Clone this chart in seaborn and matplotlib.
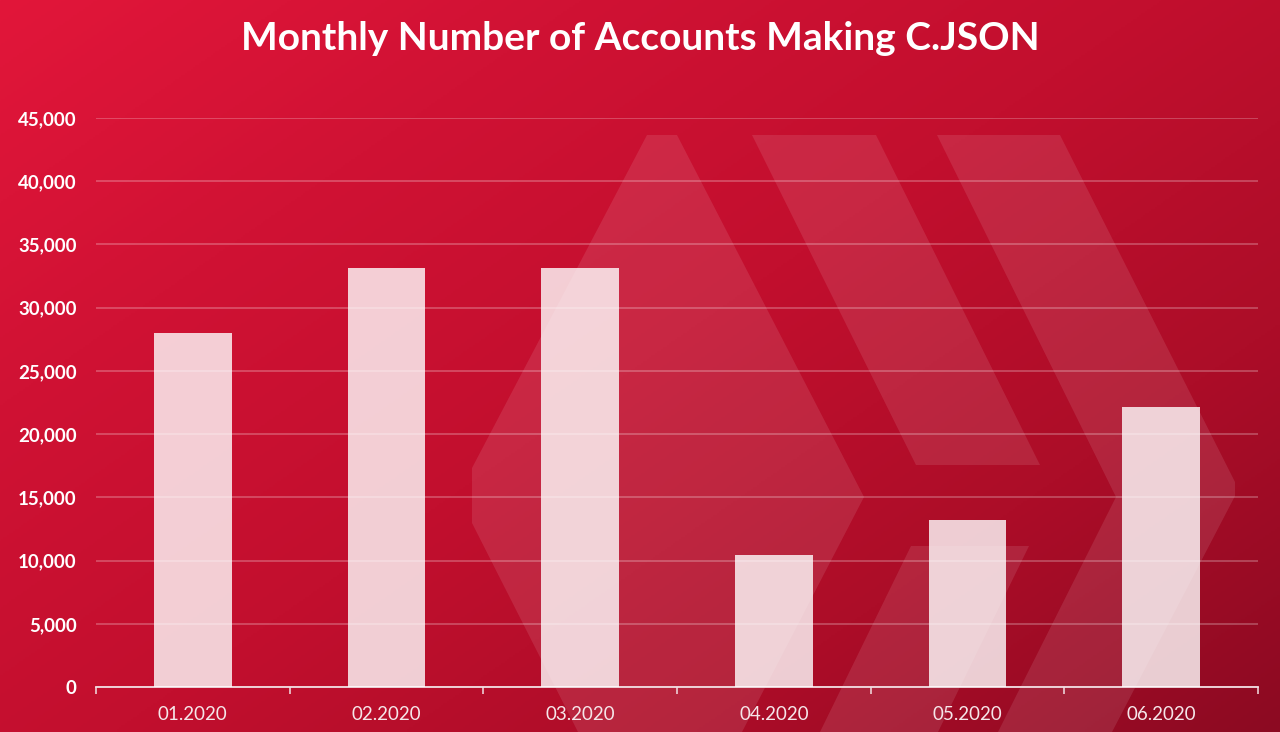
import numpy as np
import pandas as pd
import seaborn as sns
import matplotlib.pyplot as plt
from matplotlib.patches import Polygon

months = ['01.2020', '02.2020', '03.2020', '04.2020', '05.2020', '06.2020']
accounts = [28000, 33150, 33150, 10450, 13230, 22150]
y_ticks = [0, 5000, 10000, 15000, 20000, 25000, 30000, 35000, 40000, 45000]

W, H = 1280, 732

# hive logo behind the chart, in pixels
logo = [
    [(647, 135), (677, 135), (864, 497), (742, 732), (578, 732), (472, 523), (472, 468)],
    [(752, 135), (876, 135), (1040, 465), (916, 465)],
    [(937, 135), (1060, 135), (1235, 482), (1235, 496), (1112, 732), (998, 732), (1116, 497)],
    [(911, 546), (1029, 546), (938, 732), (820, 732)],
]

sns.set_theme(style='white')
plt.rcParams['font.family'] = ['Lato', 'DejaVu Sans']

fig = plt.figure(figsize=(W / 100, H / 100), dpi=100)

# background gradient
bg = fig.add_axes([0, 0, 1, 1], zorder=0)
xx, yy = np.meshgrid(np.linspace(0, 1, 640), np.linspace(0, 1, 366))
t = 0.55 * xx + 0.45 * yy
stops = [0, 0.25, 0.5, 0.75, 1]
r = np.interp(t, stops, [226, 208, 194, 172, 140])
g = np.interp(t, stops, [22, 18, 15, 13, 10])
b = np.interp(t, stops, [58, 52, 46, 40, 34])
bg.imshow(np.dstack([r, g, b]).astype(np.uint8), extent=[0, W, H, 0], aspect='auto', interpolation='bilinear')
for pts in logo:
    bg.add_patch(Polygon(pts, closed=True, facecolor='white', alpha=0.1, edgecolor='none'))
bg.set_xlim(0, W)
bg.set_ylim(H, 0)
bg.axis('off')

ax = fig.add_axes([96 / W, (H - 687) / H, 1162 / W, 569 / H], zorder=1)
ax.patch.set_alpha(0)

df = pd.DataFrame({'month': months, 'accounts': accounts})
sns.barplot(data=df, x='month', y='accounts', color='white', alpha=0.8, width=0.4, saturation=1,
            linewidth=0, edgecolor='none', ax=ax, zorder=3)

ax.set_xlim(-0.5, 5.5)
ax.set_ylim(0, 45000)
ax.set_xlabel('')
ax.set_ylabel('')
ax.set_yticks(y_ticks)
ax.set_yticklabels([f'{v:,}' for v in y_ticks], color='white', fontsize=13.5, fontweight='bold')
ax.tick_params(axis='y', length=0, pad=14)
ax.tick_params(axis='x', which='major', bottom=False, length=0, pad=13.5, labelsize=13.5, labelcolor='#f5e6e9')
ax.set_xticks(np.arange(-0.5, 6), minor=True)
ax.tick_params(axis='x', which='minor', bottom=True, length=5, width=1.1, color='#f2dfe3', direction='out')

ax.grid(axis='y', color='white', alpha=0.28, linewidth=1.2, zorder=1)
ax.set_axisbelow(True)
sns.despine(ax=ax, left=True, top=True, right=True)
ax.spines['bottom'].set_color('#f2dfe3')
ax.spines['bottom'].set_linewidth(1.3)

fig.text(640 / W, 1 - 38 / H, 'Monthly Number of Accounts Making C.JSON', color='white',
         fontsize=28, fontweight='bold', ha='center', va='center')

fig.savefig('out.png', dpi=100)
